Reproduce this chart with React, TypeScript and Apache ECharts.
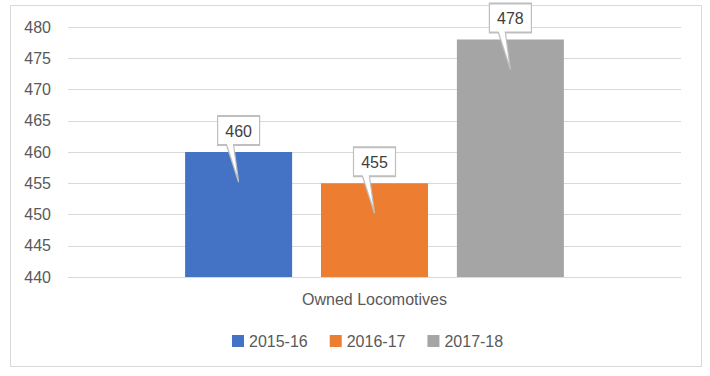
import React, { useEffect, useRef } from "react";
import * as echarts from "echarts";

const categories = ["Owned Locomotives"];
const seriesNames = ["2015-16", "2016-17", "2017-18"];
const seriesValues = [460, 455, 478];
const colors = ["#4472C4", "#ED7D31", "#A5A5A5"];
const yMin = 440;
const yMax = 480;
const yInterval = 5;

const FONT = "'Liberation Sans', Arial, sans-serif";
const CALLOUT = "path://M0 0 H42 V29 H16 L21 66 L9 29 H0 Z";

export default function App() {
  const ref = useRef<HTMLDivElement>(null);
  useEffect(() => {
    if (!ref.current) return;
    const chart = echarts.init(ref.current, undefined, { renderer: "svg" });
    chart.setOption({
      animation: false,
      backgroundColor: "#fff",
      textStyle: { fontFamily: FONT },
      graphic: [
        {
          type: "rect",
          shape: { x: 10.5, y: 5.5, width: 691, height: 361 },
          style: { fill: "none", stroke: "#d9d9d9", lineWidth: 1 },
          silent: true,
        },
      ],
      grid: { left: 68, right: 29, top: 27, bottom: 99 },
      legend: {
        left: 227,
        top: 328,
        itemWidth: 12,
        itemHeight: 12,
        itemGap: 22,
        icon: "rect",
        textStyle: { color: "#595959", fontSize: 16, fontFamily: FONT },
        data: seriesNames,
      },
      xAxis: {
        type: "category",
        data: categories,
        axisLine: { lineStyle: { color: "#d9d9d9" } },
        axisTick: { show: false },
        axisLabel: { color: "#595959", fontSize: 16, margin: 14, fontFamily: FONT },
      },
      yAxis: {
        type: "value",
        min: yMin,
        max: yMax,
        interval: yInterval,
        axisLine: { show: false },
        axisTick: { show: false },
        splitLine: { lineStyle: { color: "#d9d9d9" } },
        axisLabel: { color: "#595959", fontSize: 16, margin: 17, fontFamily: FONT },
      },
      series: seriesNames.map((name, i) => ({
        name,
        type: "bar",
        data: [seriesValues[i]],
        barWidth: 107,
        barGap: "27%",
        itemStyle: { color: colors[i] },
        markPoint: {
          symbol: CALLOUT,
          symbolSize: [42, 66],
          symbolOffset: [0, -3],
          itemStyle: { color: "#ffffff", borderColor: "#bfbfbf", borderWidth: 1.5 },
          label: {
            show: true,
            position: "inside",
            offset: [0, -18],
            color: "#404040",
            fontSize: 16,
            fontFamily: FONT,
            formatter: "{c}",
          },
          data: [{ coord: [0, seriesValues[i]], value: seriesValues[i] }],
        },
      })),
    });
    return () => chart.dispose();
  }, []);
  return (
    <div
      ref={ref}
      style={{ position: "fixed", left: 0, top: 0, width: 710, height: 376 }}
    />
  );
}
